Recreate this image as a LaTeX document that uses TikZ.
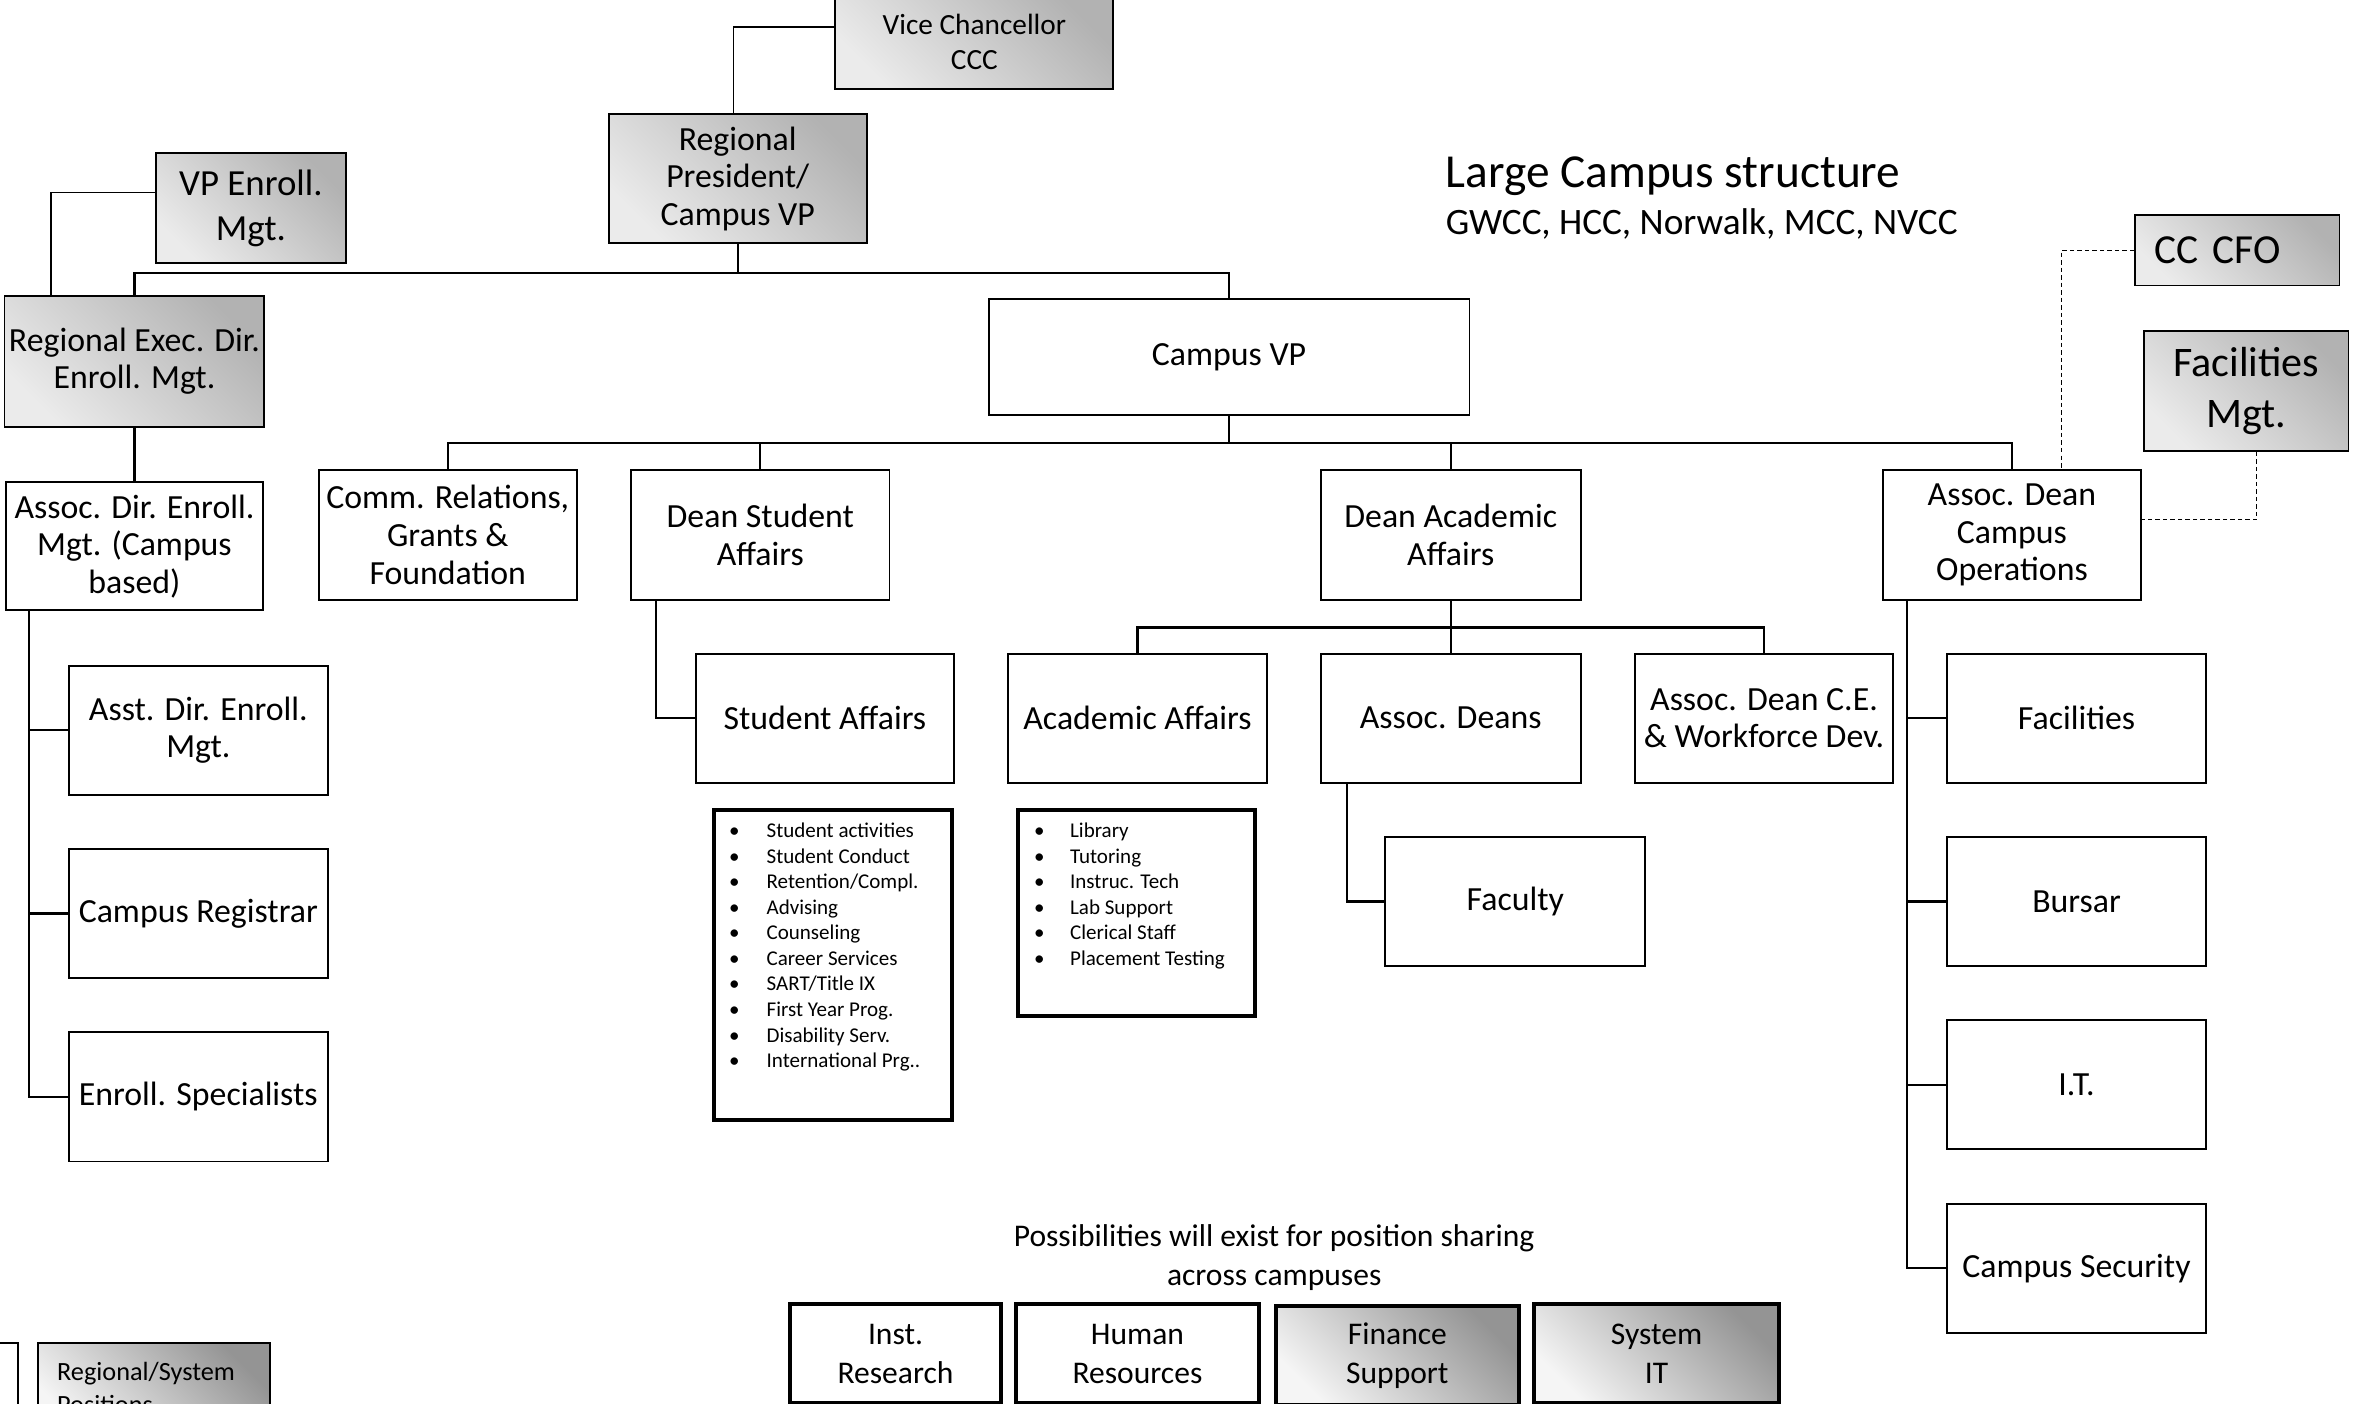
\documentclass[tikz,border=0pt]{standalone}
\usepackage{fontspec}
\setmainfont{Carlito}
\usetikzlibrary{positioning}

\def\boxfont{\fontsize{22.5}{25}\selectfont}
\def\listfont{\fontsize{14}{17}\selectfont}
\colorlet{shade dark}{black!30}
\colorlet{shade light}{black!8}
\colorlet{shade darker}{black!42}
\colorlet{shade lighter}{black!4}
\tikzset{
  unit/.style={draw, line width=1.3pt, minimum width=172, minimum height=86, align=center, font=\boxfont, inner sep=1pt},
  regional/.style={unit, top color=shade dark, bottom color=shade light, shading angle=-45},
  darkshade/.style={top color=shade darker, bottom color=shade lighter, shading angle=-45},
  shared/.style={unit, line width=2.6pt, minimum height=66, font=\fontsize{21}{26}\selectfont},
  listbox/.style={draw, line width=2.6pt, anchor=north west, inner sep=0pt}
  }
\tikzstyle{link} = [draw, line width=1.5pt]
\tikzstyle{thinlink} = [draw, line width=0.8pt]
\tikzstyle{dotlink} = [draw, line width=0.8pt, dash pattern=on 3pt off 2pt]

\begin{document}
\begin{tikzpicture}[x=1pt, y=-1pt]
   \useasboundingbox (0,0) rectangle (1568,934);

   % top of the chart
   \node[regional, minimum width=185, minimum height=62, font=\fontsize{19.5}{23}\selectfont] (vc) at (648.5,28) {Vice Chancellor\\CCC};
   \node[regional] (regpres) at (491,119) {Regional\\President/\\Campus VP};
   \node[regional, minimum width=126, minimum height=73, font=\fontsize{24.5}{30}\selectfont] (vpenroll) at (167,138.5) {VP Enroll.\\Mgt.};
   \node[regional, minimum width=173, minimum height=87] (regexec) at (89.5,240.5) {Regional Exec. Dir.\\Enroll. Mgt.};
   \node[unit, minimum width=320, minimum height=77] (campusvp) at (818,237.5) {Campus VP};

   \node[anchor=base west, inner sep=0pt, font=\fontsize{31.5}{36}\selectfont] (title) at (962,125) {Large Campus structure};
   \node[anchor=base west, inner sep=0pt, font=\fontsize{24.8}{30}\selectfont] (subtitle) at (962,156) {GWCC, HCC, Norwalk, MCC, NVCC};

   \node[regional, minimum width=136, minimum height=47, text width=110, inner xsep=13pt, align=left, font=\fontsize{27.5}{33}\selectfont] (cfo) at (1489,166.5) {CC CFO};
   \node[regional, minimum width=136, minimum height=80, font=\fontsize{28}{34}\selectfont] (facmgt) at (1495,260) {Facilities\\Mgt.};

   % second row
   \node[unit, minimum width=171, minimum height=85] (assocdir) at (89.5,363.5) {Assoc. Dir. Enroll.\\Mgt. (Campus\\based)};
   \node[unit] (comm) at (298,356) {Comm. Relations,\\Grants \&\\Foundation};
   \node[unit] (deansa) at (506,356) {Dean Student\\Affairs};
   \node[unit, minimum width=173] (deanaa) at (965.5,356) {Dean Academic\\Affairs};
   \node[unit] (assocops) at (1339,356) {Assoc. Dean\\Campus\\Operations};

   % third row and below
   \node[unit] (asstdir) at (132,486) {Asst. Dir. Enroll.\\Mgt.};
   \node[unit] (registrar) at (132,608) {Campus Registrar};
   \node[unit] (specialists) at (132,730) {Enroll. Specialists};
   \node[unit] (studentaff) at (549,478) {Student Affairs};
   \node[unit] (acadaff) at (757,478) {Academic Affairs};
   \node[unit, minimum width=173] (assocdeans) at (965.5,478) {Assoc. Deans};
   \node[unit] (assocdeance) at (1174,478) {Assoc. Dean C.E.\\\& Workforce Dev.};
   \node[unit, minimum width=173] (faculty) at (1008.5,600) {Faculty};
   \node[unit] (facilities) at (1382,478) {Facilities};
   \node[unit] (bursar) at (1382,600) {Bursar};
   \node[unit] (it) at (1382,722) {I.T.};
   \node[unit] (security) at (1382,844) {Campus Security};

   % duty lists
   \node[listbox, minimum width=158, minimum height=206] (salist) at (474,538) {};
   \node[listbox, minimum width=158, minimum height=137] (aalist) at (676,538) {};
   \foreach \duty [count=\i] in {Student activities, Student Conduct, Retention/Compl., Advising, Counseling, Career Services, SART/Title IX, First Year Prog., Disability Serv., International Prg..}
      \node[anchor=base west, inner sep=0pt, font=\listfont] (sa-\i) at (485,{540.5+17*\i}) {\makebox[25pt][l]{\textbullet}\duty};
   \foreach \duty [count=\i] in {Library, Tutoring, Instruc. Tech, Lab Support, Clerical Staff, Placement Testing}
      \node[anchor=base west, inner sep=0pt, font=\listfont] (aa-\i) at (688,{540.5+17*\i}) {\makebox[24pt][l]{\textbullet}\duty};

   % shared positions
   \node[align=center, font=\fontsize{21}{26}\selectfont] (sharing) at (848,837) {Possibilities will exist for position sharing\\across campuses};
   \node[shared, minimum width=140] (instres) at (596,901) {Inst.\\Research};
   \node[shared, minimum width=162] (hr) at (757,901) {Human\\Resources};
   \node[shared, darkshade, minimum width=162] (finance) at (930,902) {Finance\\Support};
   \node[shared, darkshade, minimum width=163] (sysit) at (1102.5,901) {System\\IT};

   % legend
   \node[unit, minimum width=160, minimum height=60] (legendplain) at (-68,924) {};
   \node[unit, darkshade, minimum width=155, minimum height=60, text width=129, inner xsep=13pt, align=left, font=\fontsize{17.5}{22}\selectfont] (legendregional) at (102.5,924) {Regional/System\\Positions};

   % connectors
   \path[thinlink] ([yshift=10pt]vc.west) -| ([xshift=-3pt]regpres.north);
   \path[thinlink] ([yshift=10.5pt]vpenroll.west) -| ([xshift=-55.5pt]regexec.north);

   \path (regpres.south) ++(0,19) coordinate (bus1);
   \path[link] (regpres.south) -- (bus1) -| (regexec.north);
   \path[link] (bus1) -| (campusvp.north);
   \path[link] (regexec) -- (assocdir);

   \path (campusvp.south) ++(0,18) coordinate (bus2);
   \path[link] (campusvp.south) -- (bus2);
   \foreach \n in {comm,deansa,deanaa,assocops}
      \path[link] (bus2) -| (\n.north);

   \path (deanaa.south) ++(0,18) coordinate (bus3);
   \path[link] (deanaa.south) -- (bus3);
   \foreach \n in {acadaff,assocdeans,assocdeance}
      \path[link] (bus3) -| (\n.north);

   \foreach \n in {asstdir,registrar,specialists}
      \path[link] ([xshift=16pt]assocdir.south west) |- (\n.west);
   \path[link] ([xshift=17pt]deansa.south west) |- (studentaff.west);
   \path[link] ([xshift=18pt]assocdeans.south west) |- (faculty.west);
   \foreach \n in {facilities,bursar,it,security}
      \path[link] ([xshift=17pt]assocops.south west) |- (\n.west);

   \path[dotlink] (cfo.west) -| ([xshift=33pt]assocops.north);
   \path[dotlink] ([xshift=7pt]facmgt.south) |- ([yshift=10pt]assocops.east);
\end{tikzpicture}
\end{document}
